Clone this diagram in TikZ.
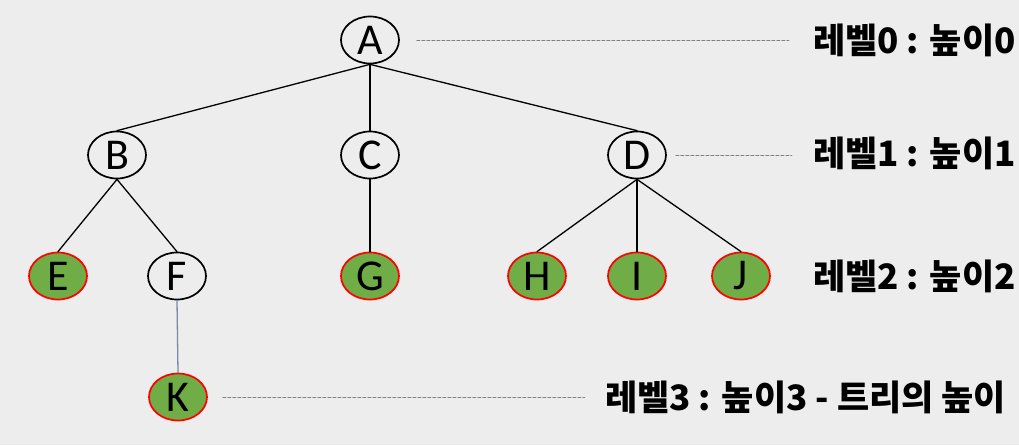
\documentclass[tikz,border=0pt]{standalone}
\usepackage{fontspec}
\setmainfont{Carlito}
\newfontfamily\kofont{Noto Sans CJK KR}
\usetikzlibrary{shapes.geometric}
\definecolor{bgpaper}{HTML}{EDEDED}
\definecolor{leafgreen}{HTML}{70AD47}
\tikzset{
  vertex/.style={ellipse, draw, line width=1.7pt, fill=bgpaper, minimum width=58pt, minimum height=47pt, inner sep=0pt},
  leaf/.style={vertex, draw=red, fill=leafgreen},
  lvltext/.style={anchor=west, inner sep=0pt, font=\kofont\bfseries\fontsize{35}{35}\selectfont},
  guide/.style={draw=gray, line width=0.9pt, dash pattern=on 3pt off 2pt}
}
\begin{document}
\begin{tikzpicture}[x=1pt, y=-1pt, line join=round, line cap=round, font=\fontsize{44}{44}\selectfont]
  \fill[bgpaper] (0,0) rectangle (1019,445);
  \useasboundingbox (0,0) rectangle (1019,445);

  % nodes
  \foreach \n/\x/\y in {A/370/40, B/117/155, C/370/155, D/637/155, F/177/276}
    \node[vertex] (\n) at (\x,\y) {\n};
  \foreach \n/\x/\y in {E/58/276, G/370/276, H/537/276, I/637/276, J/741/276, K/178/397}
    \node[leaf] (\n) at (\x,\y) {\n};

  % edges
  \foreach \p/\c in {A/B, A/C, A/D, B/E, B/F, C/G, D/H, D/I, D/J}
    \draw[line width=1.3pt] (\p.south) -- (\c.north);
  \draw[line width=1.3pt, draw={rgb,255:red,120;green,140;blue,170}] (F.south) -- (K.north);

  % levels
  \path
    (789,40) coordinate (g0)
    (792,155) coordinate (g1)
    (585,397) coordinate (g3)
    ;
  \draw[guide] ([xshift=17pt]A.east) -- (g0);
  \draw[guide] ([xshift=9pt]D.east) -- (g1);
  \draw[guide] ([xshift=15pt]K.east) -- (g3);

  \node[lvltext] (lv0) at (813,40) {레벨0 : 높이0};
  \node[lvltext] (lv1) at (813,153) {레벨1 : 높이1};
  \node[lvltext] (lv2) at (813,276) {레벨2 : 높이2};
  \node[lvltext] (lv3) at (605,397) {레벨3 : 높이3 - 트리의 높이};
\end{tikzpicture}
\end{document}
